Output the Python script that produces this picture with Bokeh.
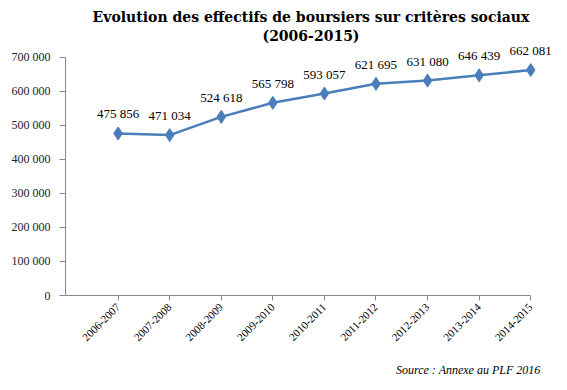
import math
from bokeh.plotting import figure
from bokeh.models import ColumnDataSource, Range1d, FixedTicker, Title
from bokeh.core.properties import value
from bokeh.embed import file_html
from bokeh.resources import INLINE

years = ["2006-2007", "2007-2008", "2008-2009", "2009-2010", "2010-2011",
         "2011-2012", "2012-2013", "2013-2014", "2014-2015"]
boursiers = [475856, 471034, 524618, 565798, 593057, 621695, 631080, 646439, 662081]
y_ticks = [0, 100000, 200000, 300000, 400000, 500000, 600000, 700000]

def fmt(v):
    return "{:,}".format(v).replace(",", " ")

xs = list(range(len(years)))
src = ColumnDataSource(dict(x=xs, y=boursiers, lab=[fmt(v) for v in boursiers]))

p = figure(width=567, height=390, output_backend="svg", toolbar_location=None,
           x_range=Range1d(-1.02, 8.5), y_range=Range1d(0, 740000),
           min_border_left=65, min_border_right=11, min_border_top=43, min_border_bottom=95)
p.outline_line_color = None
p.xgrid.grid_line_color = None
p.ygrid.grid_line_color = None

p.yaxis.ticker = FixedTicker(ticks=y_ticks)
p.yaxis.bounds = (0, 700000)
p.yaxis.major_label_overrides = {t: fmt(t) for t in y_ticks}
p.yaxis.major_label_text_font = "Liberation Sans Narrow"
p.yaxis.major_label_text_font_size = "12px"
p.yaxis.major_label_text_color = "#222222"
p.yaxis.major_label_standoff = 9
p.yaxis.axis_line_color = "#888888"
p.yaxis.major_tick_line_color = "#888888"
p.yaxis.major_tick_in = 0
p.yaxis.major_tick_out = 6
p.yaxis.minor_tick_line_color = None

p.xaxis.ticker = FixedTicker(ticks=xs)
p.xaxis.bounds = (-1.02, 8)
p.xaxis.major_label_overrides = {i: y for i, y in enumerate(years)}
p.xaxis.major_label_orientation = math.pi / 4
p.xaxis.major_label_text_font = "Liberation Serif"
p.xaxis.major_label_text_font_size = "11px"
p.xaxis.major_label_text_color = "#000000"
p.xaxis.axis_line_color = "#888888"
p.xaxis.major_tick_line_color = "#888888"
p.xaxis.major_tick_in = 0
p.xaxis.major_tick_out = 5
p.xaxis.minor_tick_line_color = None

p.line("x", "y", source=src, line_color="#4A7EBB", line_width=2.5)
p.scatter("x", "y", source=src, marker="diamond", size=13, fill_color="#4A7EBB", line_color="#4A7EBB")
p.text("x", "y", text="lab", source=src, y_offset=-12, text_align="center", text_baseline="bottom",
       text_font=value("Liberation Serif"), text_font_size="13px", text_color="#000000")

p.add_layout(Title(text="(2006-2015)", align="center", offset=-27, standoff=0,
                   text_font="DejaVu Serif", text_font_style="bold",
                   text_font_size="14px", text_color="#000000"), "above")
p.add_layout(Title(text="Evolution des effectifs de boursiers sur critères sociaux", align="center", offset=-27,
                   standoff=2, text_font="DejaVu Serif", text_font_style="bold",
                   text_font_size="14px", text_color="#000000"), "above")
p.add_layout(Title(text="Source : Annexe au PLF 2016", align="right", offset=16, standoff=27,
                   text_font="Liberation Serif", text_font_style="italic",
                   text_font_size="12px", text_color="#000000"), "below")

open("out.html", "w").write(file_html(p, INLINE))
